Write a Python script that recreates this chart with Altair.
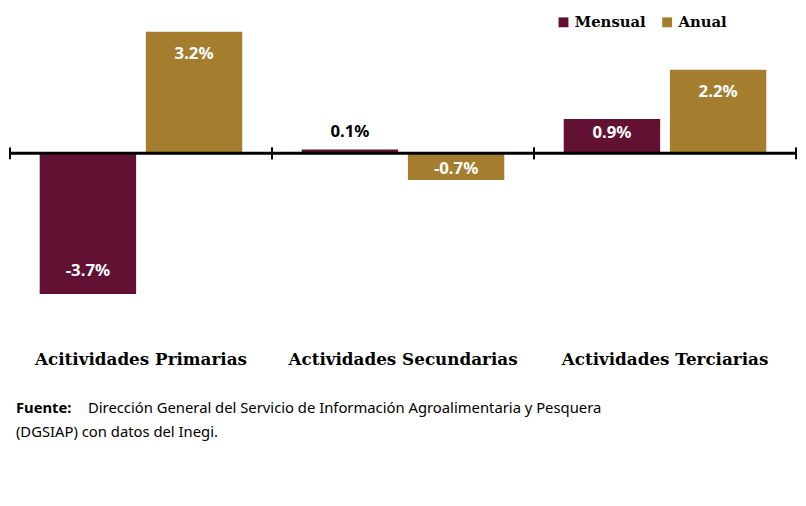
import altair as alt
import pandas as pd

categorias = ["Acitividades Primarias", "Actividades Secundarias", "Actividades Terciarias"]
series = ["Mensual", "Anual"]
mensual = [-3.7, 0.1, 0.9]
anual = [3.2, -0.7, 2.2]
colores = ["#621132", "#A47E2E"]
fuente_bold = "Fuente:"
fuente_linea1 = "Dirección General del Servicio de Información Agroalimentaria y Pesquera"
fuente_linea2 = "(DGSIAP) con datos del Inegi."

rows = []
for i, c in enumerate(categorias):
    for s, vals in zip(series, [mensual, anual]):
        v = vals[i]
        rows.append({"cat": c, "serie": s, "valor": v, "etiqueta": f"{v:.1f}%",
                     "tcolor": "black" if abs(v) < 0.3 else "white"})
df = pd.DataFrame(rows)

W, H = 796, 337
ymin, ymax = -5.0, 3.75
zero_y = ymax / (ymax - ymin) * H

serif = "DejaVu Serif"
sans = "Noto Sans"

xscale = alt.Scale(domain=categorias, paddingInner=0, paddingOuter=0)
xoffscale = alt.Scale(domain=series, paddingInner=0.0917, paddingOuter=0.28)
yscale = alt.Scale(domain=[ymin, ymax], nice=False, zero=False)

base = alt.Chart(df)
first = "datum.serie == 'Mensual'"
one = "datum.serie == 'Mensual' && datum.cat == 'Acitividades Primarias'"

bars = base.mark_bar().encode(
    x=alt.X("cat:N", title=None, scale=xscale, axis=None),
    xOffset=alt.XOffset("serie:N", scale=xoffscale),
    y=alt.Y("valor:Q", scale=yscale, axis=None),
    color=alt.Color("serie:N",
                    scale=alt.Scale(domain=series, range=colores),
                    legend=alt.Legend(title=None, orient="none", legendX=553, legendY=4,
                                      direction="horizontal", symbolType="square",
                                      symbolSize=100, symbolStrokeWidth=0,
                                      labelFont=serif, labelFontSize=15,
                                      labelFontWeight="bold", labelColor="black",
                                      columnPadding=14, padding=0, symbolOffset=0)),
)

zero = base.transform_filter(one).mark_rule(color="black", strokeWidth=3).encode(
    x=alt.value(0), x2=alt.value(W),
    y=alt.YDatum(0, type="quantitative", scale=yscale, axis=None),
)

ticks_left = base.transform_filter(first).mark_rule(color="black", strokeWidth=2).encode(
    x=alt.X("cat:N", scale=xscale, bandPosition=0, axis=None),
    y=alt.value(zero_y - 6), y2=alt.value(zero_y + 6),
)
ticks_right = base.transform_filter(first).mark_rule(color="black", strokeWidth=2).encode(
    x=alt.X("cat:N", scale=xscale, bandPosition=1, axis=None),
    y=alt.value(zero_y - 6), y2=alt.value(zero_y + 6),
)

labels = base.transform_calculate(
    pos="datum.valor >= 0 ? (datum.valor < 0.3 ? datum.valor + 0.45 : datum.valor - min(0.6, datum.valor * 0.4)) : datum.valor + min(0.6, -datum.valor * 0.4)",
).mark_text(font=sans, fontSize=17, fontWeight="bold", baseline="middle").encode(
    x=alt.X("cat:N", scale=xscale, axis=None),
    xOffset=alt.XOffset("serie:N", scale=xoffscale),
    y=alt.Y("pos:Q", scale=yscale, axis=None),
    text="etiqueta:N",
    fill=alt.Fill("tcolor:N", scale=None, legend=None),
)

catlabels = base.transform_filter(first).mark_text(
    font=serif, fontSize=17, fontWeight="bold", baseline="middle", color="black"
).encode(
    x=alt.X("cat:N", scale=xscale, axis=None),
    y=alt.value(354),
    text="cat:N",
)

src_bold = base.transform_filter(one).mark_text(
    font=sans, fontSize=15, fontWeight="bold", align="left", baseline="middle",
    color="black", text=fuente_bold
).encode(x=alt.value(6), y=alt.value(402))

src1 = base.transform_filter(one).mark_text(
    font=sans, fontSize=15, align="left", baseline="middle", color="black", text=fuente_linea1
).encode(x=alt.value(79), y=alt.value(402))

src2 = base.transform_filter(one).mark_text(
    font=sans, fontSize=15, align="left", baseline="middle", color="black", text=fuente_linea2
).encode(x=alt.value(6), y=alt.value(427))

chart = alt.layer(bars, zero, ticks_left, ticks_right, labels, catlabels,
                  src_bold, src1, src2).properties(
    width=W, height=H, padding=0,
).configure_view(stroke=None)

chart.save("out.html", embed_options={"renderer": "svg", "actions": False})
